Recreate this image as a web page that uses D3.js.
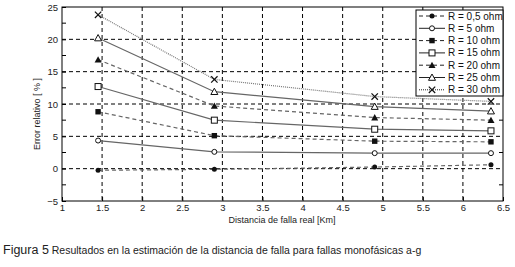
<!DOCTYPE html>
<html><head><meta charset="utf-8">
<script src="https://cdn.jsdelivr.net/npm/d3@7"></script>
<style>body{margin:0;background:#fff}svg{display:block;font-family:"Liberation Sans",Arial,sans-serif}</style>
</head><body><svg id="c" width="515" height="267"></svg>
<script>
const distances = [1.45, 2.9, 4.9, 6.35];
const seriesNames = ["R = 0,5 ohm","R = 5 ohm","R = 10 ohm","R = 15 ohm","R = 20 ohm","R = 25 ohm","R = 30 ohm"];
const r05 = [-0.25, -0.1, 0.25, 0.6];
const r5  = [4.35, 2.6, 2.4, 2.4];
const r10 = [8.8, 5.1, 4.25, 4.15];
const r15 = [12.7, 7.5, 6.1, 5.85];
const r20 = [16.85, 9.7, 7.9, 7.5];
const r25 = [20.2, 11.9, 9.6, 8.9];
const r30 = [23.8, 13.8, 11.15, 10.4];
const xTicks = [1,1.5,2,2.5,3,3.5,4,4.5,5,5.5,6,6.5];
const yTicks = [-5,0,5,10,15,20,25];
const markers = ["dotF","dotO","sqF","sqO","triF","triO","x"];
const dashes = ["4,3",null,"4,3",null,"4,3",null,"1,1"];
const values = [r05,r5,r10,r15,r20,r25,r30];

const svg = d3.select("#c");
const L=62,R=503,T=7,B=201;
const x = d3.scaleLinear().domain([1,6.5]).range([L,R]);
const y = d3.scaleLinear().domain([-5,25]).range([B,T]);

const g = svg.append("g");
g.selectAll(".gx").data(xTicks.slice(1,-1)).join("line")
 .attr("x1",d=>x(d)).attr("x2",d=>x(d)).attr("y1",T).attr("y2",B)
 .attr("stroke","#000").attr("stroke-width",1).attr("stroke-dasharray","4,3");
g.selectAll(".gy").data(yTicks.slice(1,-1)).join("line")
 .attr("y1",d=>y(d)).attr("y2",d=>y(d)).attr("x1",L).attr("x2",R)
 .attr("stroke","#000").attr("stroke-width",1).attr("stroke-dasharray","4,3");

const minorY = [-2.5,2.5,7.5,12.5,17.5,22.5];
g.selectAll(".my").data(minorY).join("line")
 .attr("x1",L).attr("x2",L+4).attr("y1",d=>y(d)).attr("y2",d=>y(d)).attr("stroke","#000");
g.selectAll(".my2").data(minorY).join("line")
 .attr("x1",R-4).attr("x2",R).attr("y1",d=>y(d)).attr("y2",d=>y(d)).attr("stroke","#000");

const ax = d3.axisBottom(x).tickValues(xTicks).tickSize(-4).tickPadding(3).tickFormat(d3.format("~g"));
const ay = d3.axisLeft(y).tickValues(yTicks).tickSize(-4).tickPadding(4).tickFormat(d3.format("~g"));
const gx = svg.append("g").attr("transform",`translate(0,${B})`).call(ax);
const gy = svg.append("g").attr("transform",`translate(${L},0)`).call(ay);
[gx,gy].forEach(a=>{a.select(".domain").remove();a.selectAll("text").attr("font-size",9.5).attr("fill","#222").attr("font-family","Liberation Sans, Arial, sans-serif");});
svg.append("rect").attr("x",L).attr("y",T).attr("width",R-L).attr("height",B-T).attr("fill","none").attr("stroke","#000").attr("stroke-width",1);

const line = d3.line().x((d,i)=>x(distances[i])).y(d=>y(d));
values.forEach((v,k)=>{
  svg.append("path").attr("d",line(v)).attr("fill","none")
   .attr("stroke", k===6?"#777":"#666").attr("stroke-width",1.2)
   .attr("stroke-dasharray",dashes[k]);
});

function marker(sel,type,cx,cy){
  const s=sel.append("g").attr("transform",`translate(${cx},${cy})`);
  if(type==="dotF") s.append("circle").attr("r",2.5).attr("fill","#111");
  if(type==="dotO") s.append("circle").attr("r",2.5).attr("fill","#fff").attr("stroke","#111");
  if(type==="sqF") s.append("rect").attr("x",-2.7).attr("y",-2.7).attr("width",5.4).attr("height",5.4).attr("fill","#111");
  if(type==="sqO") s.append("rect").attr("x",-3).attr("y",-3).attr("width",6).attr("height",6).attr("fill","#fff").attr("stroke","#111");
  if(type==="triF") s.append("path").attr("d","M0,-3.5L3.5,2.8L-3.5,2.8Z").attr("fill","#111");
  if(type==="triO") s.append("path").attr("d","M0,-3.5L3.5,2.8L-3.5,2.8Z").attr("fill","#fff").attr("stroke","#111");
  if(type==="x") s.append("path").attr("d","M-3.2,-3.2L3.2,3.2M-3.2,3.2L3.2,-3.2").attr("stroke","#111").attr("stroke-width",1.2);
}
values.forEach((v,k)=>{
  v.forEach((d,i)=>marker(svg,markers[k],x(distances[i]),y(d)));
});

const lg = svg.append("g");
lg.append("rect").attr("x",416).attr("y",10).attr("width",87).attr("height",86).attr("fill","#fff").attr("stroke","#000");
seriesNames.forEach((n,k)=>{
  const yy = 16 + k*12.3;
  lg.append("line").attr("x1",419).attr("x2",445).attr("y1",yy).attr("y2",yy)
    .attr("stroke","#222").attr("stroke-width",1).attr("stroke-dasharray",dashes[k]);
  marker(lg,markers[k],432,yy);
  lg.append("text").attr("x",448).attr("y",yy+3.5).attr("font-size",10).attr("fill","#111").text(n);
});

svg.append("text").attr("transform","translate(40,114) rotate(-90)").attr("text-anchor","middle")
 .attr("font-size",9).attr("fill","#222").text("Error relativo [ % ]");
svg.append("text").attr("x",282).attr("y",223).attr("text-anchor","middle")
 .attr("font-size",9).attr("fill","#222").text("Distancia de falla real [Km]");
const cap = svg.append("text").attr("x",3).attr("y",254).attr("fill","#222");
cap.append("tspan").attr("font-size",12.5).text("Figura 5");
cap.append("tspan").attr("font-size",10.5).text(" Resultados en la estimación de la distancia de falla para fallas monofásicas a-g");
</script></body></html>
